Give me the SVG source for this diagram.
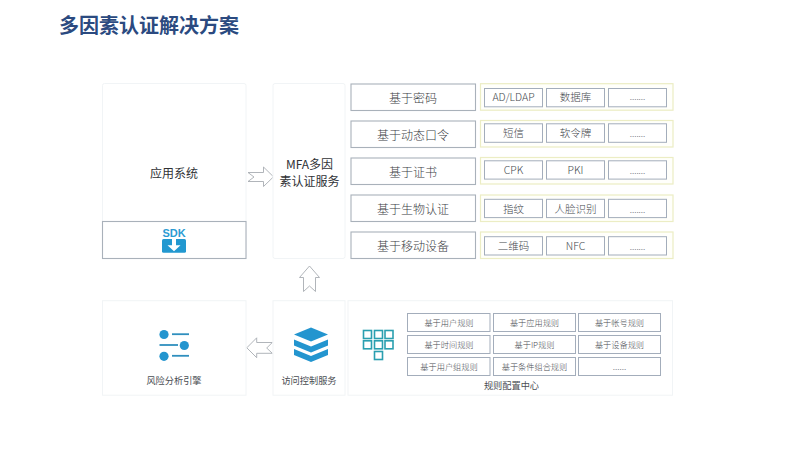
<svg xmlns="http://www.w3.org/2000/svg" width="800" height="450" viewBox="0 0 800 450">
<style>
text{font-family:"Noto Sans CJK SC","Noto Sans",sans-serif;fill:#4a4e53;text-anchor:middle;dominant-baseline:central}
.title{font-size:20px;font-weight:700;fill:#2b4a80;text-anchor:start}
.panel{fill:#fff;stroke:#f1f4f6;stroke-width:1}
.box{fill:#fff;stroke:#a9b1ba;stroke-width:1.1}
.band{fill:#fffffb;stroke:#ecedc4;stroke-width:1.2}
.cell{fill:#fff;stroke:#a3adbb;stroke-width:1}
.l{font-size:12px;font-weight:300;fill:#3c4045}.d{font-size:12px;fill:#2f3236;font-weight:400}.m{font-size:10.5px;fill:#44484d;font-weight:300}.s{font-size:8.2px;fill:#4a4e53;font-weight:300}.c{font-size:9.2px}
.dots{font-size:8px;fill:#7b8087}
.arrow{fill:#fff;stroke:#a8adb2;stroke-width:.9}
.ic{fill:#2395cf}.ln{stroke:#2f8fbe;stroke-width:1.8;fill:none}
.gr{fill:none;stroke:#2a9fb0;stroke-width:1.6}
</style>
<rect width="800" height="450" fill="#fff"/>
<text class="title" x="59" y="24.500">多因素认证解决方案</text>
<g id="connectors">
<path class="arrow" d="M248 172.500H263.500V167L273.500 176.800L263.500 186.500V181.500H248L254 177Z"/>
<path class="arrow" d="M303.500 291.500V277.500H299.500L309.500 266L319.500 277.500H315.500V291.500L309.500 286Z"/>
<path class="arrow" d="M272.300 342.500H256.700V337.800L246.800 347.800L256.700 357.700V353.300H272.300L266.700 348Z"/>
</g>
<g id="app-system">
<rect class="panel" x="102.500" y="83.500" width="143.500" height="175" rx="2"/>
<text class="d" x="174" y="172.500">应用系统</text>
</g>
<g id="sdk">
<rect class="box" x="102.500" y="221.500" width="143.500" height="37"/>
<text x="174" y="233" style="font-family:'Liberation Sans',sans-serif;font-size:11px;font-weight:700;fill:#2b9bd3">SDK</text>
<rect x="162" y="239" width="24" height="13.700" rx="1.500" fill="#2298d0"/>
<path d="M172 238.800h4v6.500h4.500l-6.500 6l-6.500-6h4.500z" fill="#fff"/>
</g>
<g id="mfa">
<rect class="panel" x="273" y="83.500" width="72" height="175" rx="2"/>
<text class="d" x="309.500" y="163.500">MFA多因</text>
<text class="d" x="309.500" y="180.500">素认证服务</text>
</g>
<g id="row-password">
<rect class="box" x="351" y="84" width="124.500" height="26.500"/>
<text class="l" x="413" y="97">基于密码</text>
<rect class="band" x="480.500" y="83.700" width="192.500" height="26.500"/>
<rect class="cell" x="484.500" y="88.500" width="58" height="18.300"/><text class="m" x="513.500" y="96.500">AD/LDAP</text>
<rect class="cell" x="546.500" y="88.500" width="58" height="18.300"/><text class="m" x="575.500" y="96.500">数据库</text>
<rect class="cell" x="608.500" y="88.500" width="58" height="18.300"/><text class="dots" x="637.500" y="96.500">.......</text>
</g>
<g id="row-otp">
<rect class="box" x="351" y="121" width="124.500" height="26.500"/>
<text class="l" x="413" y="134">基于动态口令</text>
<rect class="band" x="480.500" y="120.500" width="192.500" height="26.500"/>
<rect class="cell" x="484.500" y="123.800" width="58" height="18.500"/><text class="m" x="513.500" y="132.500">短信</text>
<rect class="cell" x="546.500" y="123.800" width="58" height="18.500"/><text class="m" x="575.500" y="132.500">软令牌</text>
<rect class="cell" x="608.500" y="123.800" width="58" height="18.500"/><text class="dots" x="637.500" y="133.500">.......</text>
</g>
<g id="row-cert">
<rect class="box" x="351" y="158" width="124.500" height="26.500"/>
<text class="l" x="413" y="171">基于证书</text>
<rect class="band" x="480.500" y="157.500" width="192.500" height="26.500"/>
<rect class="cell" x="484.500" y="160.800" width="58" height="18.300"/><text class="m" x="513.500" y="169.500">CPK</text>
<rect class="cell" x="546.500" y="160.800" width="58" height="18.300"/><text class="m" x="575.500" y="169.500">PKI</text>
<rect class="cell" x="608.500" y="160.800" width="58" height="18.300"/><text class="dots" x="637.500" y="170.500">.......</text>
</g>
<g id="row-bio">
<rect class="box" x="351" y="195" width="124.500" height="26.500"/>
<text class="l" x="413" y="208">基于生物认证</text>
<rect class="band" x="480.500" y="195" width="192.500" height="26.500"/>
<rect class="cell" x="484.500" y="199.300" width="58" height="18.300"/><text class="m" x="513.500" y="208">指纹</text>
<rect class="cell" x="546.500" y="199.300" width="58" height="18.300"/><text class="m" x="575.500" y="208">人脸识别</text>
<rect class="cell" x="608.500" y="199.300" width="58" height="18.300"/><text class="dots" x="637.500" y="209">.......</text>
</g>
<g id="row-mobile">
<rect class="box" x="351" y="232" width="124.500" height="26.500"/>
<text class="l" x="413" y="245">基于移动设备</text>
<rect class="band" x="480.500" y="232" width="192.500" height="26.500"/>
<rect class="cell" x="484.500" y="236.700" width="58" height="18.300"/><text class="m" x="513.500" y="245">二维码</text>
<rect class="cell" x="546.500" y="236.700" width="58" height="18.300"/><text class="m" x="575.500" y="245">NFC</text>
<rect class="cell" x="608.500" y="236.700" width="58" height="18.300"/><text class="dots" x="637.500" y="246">.......</text>
</g>
<g id="risk-engine">
<rect class="panel" x="102.500" y="300.700" width="143.500" height="94.500"/>
<circle class="ic" cx="164" cy="334.500" r="4.600"/><path class="ln" d="M172 334.200H189"/>
<path class="ln" d="M159.500 345H178"/><circle class="ic" cx="184.300" cy="345.500" r="4.600"/>
<circle class="ic" cx="164" cy="356.300" r="4.600"/><path class="ln" d="M172 355.800H189"/>
<text class="c" x="174" y="380">风险分析引擎</text>
</g>
<g id="access-control">
<rect class="panel" x="273" y="300.700" width="72" height="94.500"/>
<path class="ic" d="M311 327.500L328 334.500L311 341.500L294 334.500Z"/>
<path class="ic" d="M294 339.500L311 346.500L328 339.500V345.500L311 352.500L294 345.500Z"/>
<path class="ic" d="M294 349L311 356L328 349V355L311 362L294 355Z"/>
<text class="c" x="309" y="380">访问控制服务</text>
</g>
<g id="rule-center">
<rect class="panel" x="348" y="300.700" width="324.500" height="94.500"/>
<rect class="gr" x="363.500" y="330.500" width="8" height="8"/><rect class="gr" x="374.500" y="330.500" width="8" height="8"/><rect class="gr" x="385" y="330.500" width="8" height="8"/>
<rect class="gr" x="363.500" y="340.800" width="8" height="8"/><rect class="gr" x="374.500" y="340.800" width="8" height="8"/><rect class="gr" x="385" y="340.800" width="8" height="8"/>
<rect class="gr" x="374.500" y="351.500" width="8" height="8"/>
<rect class="cell" x="407.500" y="313.500" width="82.500" height="18"/><text class="s" x="449" y="322">基于用户规则</text>
<rect class="cell" x="493.500" y="313.500" width="82" height="18"/><text class="s" x="534.500" y="322">基于应用规则</text>
<rect class="cell" x="578.500" y="313.500" width="82" height="18"/><text class="s" x="619.500" y="322">基于帐号规则</text>
<rect class="cell" x="407.500" y="335.500" width="82.500" height="18"/><text class="s" x="449" y="344">基于时间规则</text>
<rect class="cell" x="493.500" y="335.500" width="82" height="18"/><text class="s" x="534.500" y="344">基于IP规则</text>
<rect class="cell" x="578.500" y="335.500" width="82" height="18"/><text class="s" x="619.500" y="344">基于设备规则</text>
<rect class="cell" x="407.500" y="357.500" width="82.500" height="18"/><text class="s" x="449" y="366">基于用户组规则</text>
<rect class="cell" x="493.500" y="357.500" width="82" height="18"/><text class="s" x="534.500" y="366">基于条件组合规则</text>
<rect class="cell" x="578.500" y="357.500" width="82" height="18"/><text class="dots" x="619.500" y="366.500">......</text>
<text class="c" x="511.500" y="385">规则配置中心</text>
</g>
</svg>
